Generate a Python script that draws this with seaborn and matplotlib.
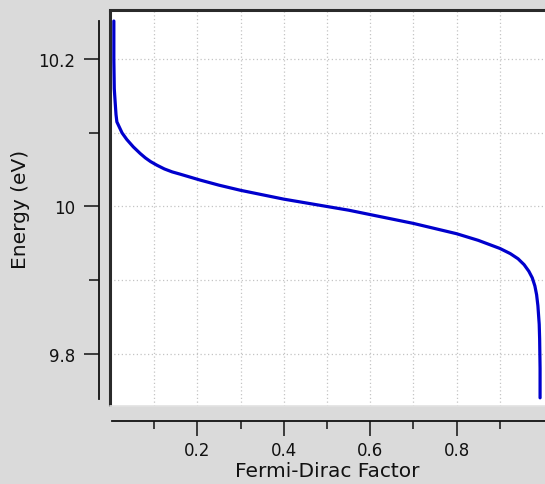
import matplotlib
matplotlib.use("Agg")
import matplotlib.pyplot as plt
import seaborn as sns
import pandas as pd

# Values
energy_ev = [10.252, 10.200, 10.160, 10.142, 10.125, 10.115, 10.100, 10.091,
             10.081, 10.072, 10.066, 10.061, 10.056, 10.051, 10.047, 10.044,
             10.036, 10.029, 10.022, 10.016, 10.010, 10.005, 10.000,
             9.995, 9.989, 9.983, 9.977, 9.970, 9.963, 9.954, 9.943,
             9.936, 9.929, 9.921, 9.912, 9.903, 9.892, 9.880, 9.865,
             9.840, 9.820, 9.780, 9.740]
fermi_factor = [0.007, 0.007, 0.008, 0.010, 0.012, 0.014, 0.026, 0.037,
                0.052, 0.068, 0.080, 0.092, 0.107, 0.124, 0.142, 0.160,
                0.206, 0.250, 0.300, 0.350, 0.400, 0.450, 0.500,
                0.550, 0.600, 0.650, 0.700, 0.750, 0.800, 0.850, 0.900,
                0.924, 0.942, 0.956, 0.967, 0.975, 0.981, 0.985, 0.988,
                0.991, 0.992, 0.993, 0.993]

x_major = [0.2, 0.4, 0.6, 0.8]
x_minor = [0.1, 0.3, 0.5, 0.7, 0.9]
y_major = [9.8, 10.0, 10.2]
y_major_labels = ["9.8", "10", "10.2"]
y_minor = [9.9, 10.1]

df = pd.DataFrame({"Fermi-Dirac Factor": fermi_factor, "Energy (eV)": energy_ev})

sns.set_style("white")
plt.rcParams["font.family"] = ["DejaVu Sans"]

bg = "#dadada"
fig = plt.figure(figsize=(5.45, 4.85), dpi=100, facecolor=bg)
ax = fig.add_axes([110 / 545, 1 - 407 / 485, 435 / 545, 396 / 485])
ax.set_facecolor("white")

sns.lineplot(data=df, x="Fermi-Dirac Factor", y="Energy (eV)", sort=False,
             estimator=None, color="#0000cd", linewidth=2.3, ax=ax)

ax.set_xlim(-0.0019, 1.0044)
ax.set_ylim(9.7289, 10.267)

ax.set_xticks(x_major)
ax.set_xticklabels([f"{v:.1f}" for v in x_major])
ax.set_xticks(x_minor, minor=True)
ax.set_yticks(y_major)
ax.set_yticklabels(y_major_labels)
ax.set_yticks(y_minor, minor=True)

ax.grid(which="both", color="#c4c4c4", linestyle=(0, (1, 2)), linewidth=0.9)

# spines
ax.spines["right"].set_visible(False)
ax.spines["top"].set_visible(True)
ax.spines["top"].set_color("#2a2a2a")
ax.spines["top"].set_linewidth(2.2)
for s in ["left", "bottom"]:
    ax.spines[s].set_color("#111111")
    ax.spines[s].set_linewidth(1.3)
ax.spines["left"].set_position(("outward", 8))
ax.spines["bottom"].set_position(("outward", 11))
ax.spines["left"].set_bounds(9.738, 10.252)
ax.spines["bottom"].set_bounds(0.003, 1.0044)

# frame line on the left edge of the plotting area
ax.plot([0, 0], [0, 1.0], transform=ax.transAxes, color="#2a2a2a",
        linewidth=2.2, clip_on=False, solid_capstyle="butt")
ax.plot([0, 1], [0, 0], transform=ax.transAxes, color="#e2e2e2",
        linewidth=1.2, clip_on=False)

ax.tick_params(axis="y", which="major", direction="out", length=10.5, width=1.1,
               pad=6.5, labelsize=12, colors="#111111", left=True)
ax.tick_params(axis="y", which="minor", direction="out", length=7, width=1.1,
               left=True, colors="#111111")
ax.tick_params(axis="x", which="major", direction="out", length=10.5, width=1.1,
               pad=3.5, labelsize=12, colors="#111111", bottom=True)
ax.tick_params(axis="x", which="minor", direction="out", length=6, width=1.1,
               bottom=True, colors="#111111")

ax.set_xlabel("Fermi-Dirac Factor", fontsize=14.5, color="#111111", labelpad=2)
ax.set_ylabel("Energy (eV)", fontsize=14.5, color="#111111", labelpad=6)

fig.savefig("out.png", dpi=100, facecolor=bg)
